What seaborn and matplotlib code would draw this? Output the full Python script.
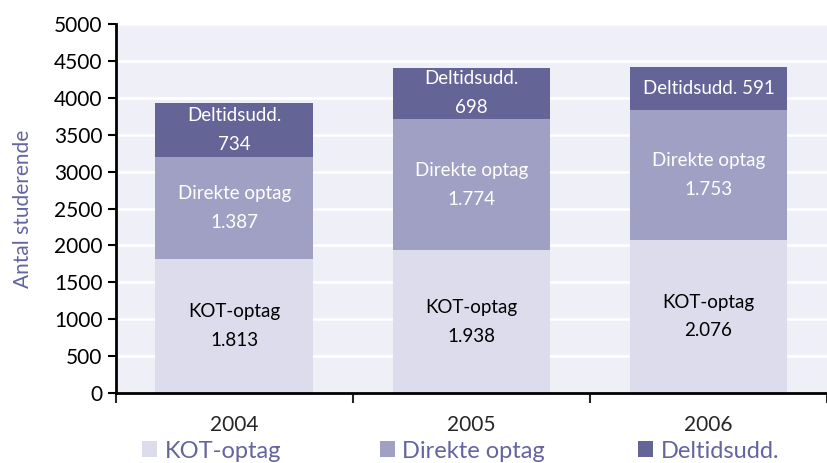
import pandas as pd
import matplotlib.pyplot as plt
import seaborn as sns
from matplotlib.patches import Patch

# Data
years = ['2004', '2005', '2006']
kot = [1813, 1938, 2076]
direkte = [1387, 1774, 1753]
deltid = [734, 698, 591]
series = ['KOT-optag', 'Direkte optag', 'Deltidsudd.']
colors = ['#dcdcec', '#a0a0c4', '#646496']
text_colors = ['black', 'white', 'white']

df = pd.DataFrame({'aar': years, 'KOT-optag': kot, 'Direkte optag': direkte, 'Deltidsudd.': deltid})
df['bund2'] = df['KOT-optag'] + df['Direkte optag']
df['total'] = df['bund2'] + df['Deltidsudd.']

sns.set_style('white')
plt.rcParams['font.family'] = ['Lato', 'DejaVu Sans']

fig = plt.figure(figsize=(8.27, 4.63), dpi=100)
ax = fig.add_axes([0.140, 0.151, 0.860, 0.797])
ax.set_facecolor('#efeff8')

# Stablede søjler: tegn de højeste først
for col, c in [('total', colors[2]), ('bund2', colors[1]), ('KOT-optag', colors[0])]:
    sns.barplot(x='aar', y=col, data=df, order=years, color=c, width=0.665,
                saturation=1, linewidth=0, ax=ax, zorder=2)

def fmt(v):
    return f'{v:,}'.replace(',', '.')

# Etiketter i segmenterne
for i in range(len(years)):
    bunde = [0, kot[i], kot[i] + direkte[i]]
    vals = [kot[i], direkte[i], deltid[i]]
    for j in range(3):
        mid = bunde[j] + vals[j] / 2
        if j == 2 and years[i] == '2006':
            txt = f'{series[j]} {fmt(vals[j])}'
        else:
            txt = f'{series[j]}\n{fmt(vals[j])}'
        ax.text(i, mid, txt, ha='center', va='center', fontsize=13.5,
                color=text_colors[j], linespacing=1.85, zorder=3)

ax.set_ylim(0, 5000)
ax.set_xlim(-0.5, 2.475)
ax.set_yticks(range(0, 5001, 500))
ax.yaxis.grid(True, color='white', linewidth=1.8, zorder=0)
ax.set_axisbelow(True)
ax.tick_params(axis='y', labelsize=15, length=6, width=1.5, direction='out', left=True, colors='black')
ax.set_xticks(range(len(years)))
ax.set_xticklabels(years, fontsize=15)
ax.set_xticks([-0.5, 0.5, 1.5, 2.5], minor=True)
ax.tick_params(axis='x', which='major', length=0, pad=16)
ax.tick_params(axis='x', which='minor', length=7, width=1.5, direction='out', bottom=True)
ax.set_xlabel('')
ax.set_ylabel('Antal studerende', fontsize=15, color='#6464a0')
ax.yaxis.set_label_coords(-0.117, 0.5)

for s in ['top', 'right']:
    ax.spines[s].set_visible(False)
for s in ['left', 'bottom']:
    ax.spines[s].set_linewidth(2)
    ax.spines[s].set_color('black')

# Forklaring: tre separate poster placeret under aksen
leg_x = [142, 380, 638]
for k in range(3):
    leg = fig.legend([Patch(facecolor=colors[k], edgecolor='none')], [series[k]],
                     loc='center left', bbox_to_anchor=(leg_x[k] / 827, 1 - 451 / 463),
                     frameon=False, fontsize=17, handlelength=0.65, handleheight=0.65,
                     handletextpad=0.3, borderpad=0, borderaxespad=0)
    for t in leg.get_texts():
        t.set_color('#6464a0')

fig.savefig('out.png', dpi=100)
